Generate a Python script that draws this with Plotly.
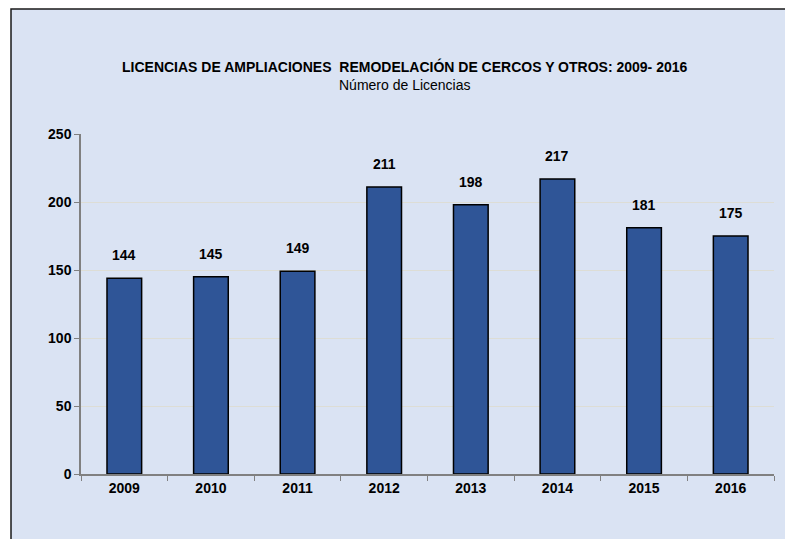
"""Licencias de ampliaciones, remodelación de cercos y otros: bar chart."""

import plotly.graph_objects as go

years = ["2009", "2010", "2011", "2012", "2013", "2014", "2015", "2016"]
licencias = [144, 145, 149, 211, 198, 217, 181, 175]
y_ticks = [0, 50, 100, 150, 200, 250]

title_text = "LICENCIAS DE AMPLIACIONES  REMODELACIÓN DE CERCOS Y OTROS: 2009- 2016"
subtitle_text = "Número de Licencias"

PANEL = "#DAE3F3"
BAR = "#2F5597"
FONT = "Liberation Sans, Arial, sans-serif"

fig = go.Figure()

fig.add_trace(
    go.Bar(
        x=years,
        y=licencias,
        marker=dict(color=BAR, line=dict(color="#000000", width=1.5)),
        width=0.4,
        hoverinfo="x+y",
        showlegend=False,
    )
)

# value labels above the bars (category index positions)
for i, val in enumerate(licencias):
    fig.add_annotation(
        x=i,
        y=val,
        text=f"<b>{val}</b>",
        showarrow=False,
        yshift=23,
        font=dict(family=FONT, size=14, color="#000000"),
    )

# chart title and subtitle
fig.add_annotation(
    xref="paper", yref="paper", x=0.4675, y=1.2, yanchor="middle",
    text=f"<b>{title_text}</b>", showarrow=False,
    font=dict(family=FONT, size=14, color="#000000"),
)
fig.add_annotation(
    xref="paper", yref="paper", x=0.4675, y=1.144, yanchor="middle",
    text=subtitle_text, showarrow=False,
    font=dict(family=FONT, size=14, color="#000000"),
)

# light blue chart panel with dark border on top/left
fig.add_shape(
    type="rect", xref="paper", yref="paper",
    x0=-0.101, x1=1.1, y0=-0.3, y1=1.368,
    fillcolor=PANEL, line=dict(color="#1a1a1a", width=1.5),
    layer="below",
)

fig.update_layout(
    width=793,
    height=539,
    paper_bgcolor="#FFFFFF",
    plot_bgcolor="rgba(0,0,0,0)",
    margin=dict(l=73, r=27, t=126, b=73),
    font=dict(family=FONT, color="#000000"),
    xaxis=dict(
        type="category",
        range=[-0.5, len(years) - 0.5],
        tickson="boundaries",
        ticks="outside",
        ticklen=5,
        tickcolor="#808080",
        showline=True,
        linecolor="#808080",
        linewidth=1.5,
        showgrid=False,
        tickfont=dict(family=FONT, size=14, color="#000000"),
        tickprefix="<b>",
        ticksuffix="</b>",
    ),
    yaxis=dict(
        range=[0, 250],
        tickvals=y_ticks,
        ticktext=[f"<b>{t}</b>" for t in y_ticks],
        ticks="outside",
        ticklen=5,
        tickcolor="#808080",
        showline=True,
        linecolor="#808080",
        linewidth=1.5,
        showgrid=True,
        gridcolor="#DDDDD5",
        gridwidth=1,
        zeroline=False,
        tickfont=dict(family=FONT, size=14, color="#000000"),
    ),
)

fig.write_html("out.html")
